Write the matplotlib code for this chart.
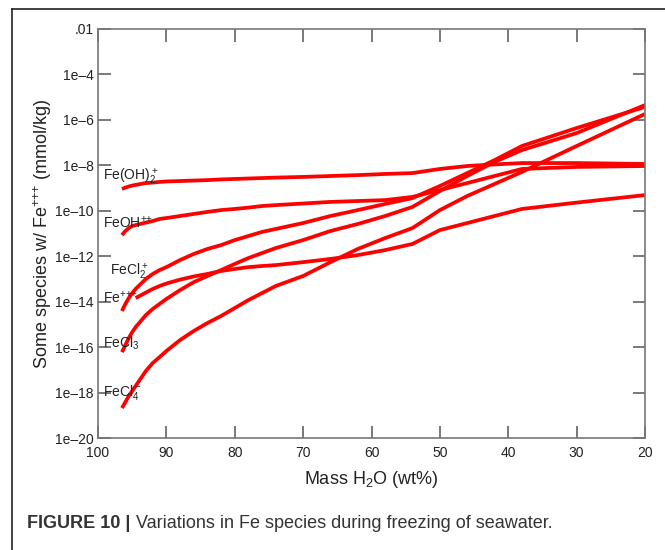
import numpy as np
import matplotlib
matplotlib.use("Agg")
import matplotlib.pyplot as plt
from matplotlib.lines import Line2D
from matplotlib.ticker import FixedLocator, FixedFormatter, NullLocator

plt.rcParams.update({
    "font.family": ["Liberation Sans", "DejaVu Sans"],
    "mathtext.fontset": "custom",
    "mathtext.rm": "Liberation Sans",
    "mathtext.it": "Liberation Sans:italic",
    "mathtext.bf": "Liberation Sans:bold",
    "mathtext.default": "regular",
})

# mass of H2O remaining (wt%) and log10 of species molality (mmol/kg)
mass = [96.5, 96, 95.5, 95, 94.5, 93, 92, 91, 90, 88, 86, 84, 82, 80, 78, 76, 74,
        70, 66, 62, 58, 54, 50, 46, 42, 38, 30, 20]
fe_oh2 = [-9.04, -8.98, -8.93, -8.89, -8.86, -8.78, -8.76, -8.73, -8.71, -8.69, -8.67, -8.65,
          -8.62, -8.60, -8.58, -8.56, -8.54,
          -8.51, -8.47, -8.43, -8.38, -8.34, -8.16, -8.03, -7.96, -7.90, -7.90, -7.94]
fe_oh = [-11.07, -10.89, -10.76, -10.67, -10.63, -10.52, -10.45, -10.36, -10.32, -10.23, -10.14,
         -10.05, -9.97, -9.92, -9.86, -9.79, -9.75,
         -9.68, -9.61, -9.57, -9.53, -9.39, -9.09, -8.78, -8.47, -8.16, -8.07, -8.03]
fe_cl2 = [-14.41, -14.10, -13.84, -13.62, -13.44, -13.00, -12.78, -12.61, -12.48, -12.17, -11.90,
          -11.68, -11.51, -11.29, -11.11, -10.93, -10.80,
          -10.54, -10.23, -9.97, -9.70, -9.44, -8.91, -8.34, -7.77, -7.15, -6.36, -5.43]
fe3 = [np.nan, np.nan, np.nan, np.nan, -13.84, -13.60, -13.44, -13.31, -13.20, -13.03, -12.89,
       -12.78, -12.65, -12.56, -12.48, -12.43, -12.39,
       -12.26, -12.12, -11.95, -11.73, -11.46, -10.85, -10.54, -10.23, -9.92, -9.64, -9.31]
fe_cl3 = [-16.22, -15.91, -15.60, -15.34, -15.12, -14.59, -14.32, -14.10, -13.88, -13.49, -13.14,
          -12.87, -12.61, -12.34, -12.08, -11.86, -11.64,
          -11.29, -10.89, -10.58, -10.23, -9.83, -9.13, -8.47, -7.85, -7.33, -6.58, -5.35]
fe_cl4 = [-18.68, -18.42, -18.15, -17.93, -17.71, -17.05, -16.70, -16.44, -16.17, -15.69, -15.29,
          -14.94, -14.63, -14.28, -13.93, -13.62, -13.31,
          -12.87, -12.26, -11.68, -11.20, -10.76, -9.97, -9.35, -8.82, -8.29, -7.15, -5.74]

series = [fe_oh2, fe_oh, fe_cl2, fe3, fe_cl3, fe_cl4]
labels = [r"Fe(OH)$_2^+$", r"FeOH$^{{+}{+}}$", r"FeCl$_2^+$", r"Fe$^{{+}{+}{+}}$",
          r"FeCl$_3$", r"FeCl$_4^-$"]
label_pos = [(99.3, 10 ** -8.5), (99.3, 10 ** -10.5), (98.3, 10 ** -12.7), (99.3, 10 ** -13.8),
             (99.2, 10 ** -15.85), (99.2, 10 ** -18.0)]

xticks = [100, 90, 80, 70, 60, 50, 40, 30, 20]
yticks = [1e-2, 1e-4, 1e-6, 1e-8, 1e-10, 1e-12, 1e-14, 1e-16, 1e-18, 1e-20]
ytick_labels = [".01", "1e\u20134", "1e\u20136", "1e\u20138", "1e\u201310", "1e\u201312",
                "1e\u201314", "1e\u201316", "1e\u201318", "1e\u201320"]

fig = plt.figure(figsize=(6.65, 5.5), dpi=100)
ax = fig.add_axes([0.1474, 0.2036, 0.8225, 0.7437])

m = np.array(mass)
for s in series:
    ax.plot(m, 10 ** np.array(s), color="#ff0000", lw=2.7, solid_capstyle="butt",
            solid_joinstyle="round")

for lab, (x, y) in zip(labels, label_pos):
    ax.text(x, y, lab, fontsize=10, color="#222222", ha="left", va="center")

ax.set_yscale("log")
ax.set_xlim(100, 20)
ax.set_ylim(1e-20, 1e-2)
ax.xaxis.set_major_locator(FixedLocator(xticks))
ax.set_xticklabels([str(t) for t in xticks])
ax.yaxis.set_major_locator(FixedLocator(yticks))
ax.yaxis.set_major_formatter(FixedFormatter(ytick_labels))
ax.yaxis.set_minor_locator(NullLocator())
ax.tick_params(direction="in", length=9, width=1.1, color="#555555", labelsize=10,
               labelcolor="#222222", top=True, right=True, pad=3)
ax.tick_params(axis="x", pad=6)
for sp in ax.spines.values():
    sp.set_color("#777777")
    sp.set_linewidth(1.2)

ax.set_xlabel(r"Mass H$_2$O (wt%)", fontsize=13, color="#222222", labelpad=6)
ax.set_ylabel(r"Some species w/ Fe$^{{+}{+}{+}}$ (mmol/kg)", fontsize=13, color="#222222",
              labelpad=1)

# journal figure frame (top and left edges)
fig.add_artist(Line2D([0.018, 1.0], [0.9836, 0.9836], color="#222222", lw=1.2))
fig.add_artist(Line2D([0.018, 0.018], [0.0, 0.9836], color="#222222", lw=1.2))

# caption
t1 = fig.text(0.041, 0.040, "FIGURE 10 | ", fontsize=13, fontweight="bold", color="#333333",
              ha="left", va="baseline")
fig.canvas.draw()
bb = t1.get_window_extent(fig.canvas.get_renderer()).transformed(fig.transFigure.inverted())
fig.text(bb.x1, 0.040, "Variations in Fe species during freezing of seawater.", fontsize=13,
         color="#333333", ha="left", va="baseline")

fig.savefig("out.png", dpi=100)
